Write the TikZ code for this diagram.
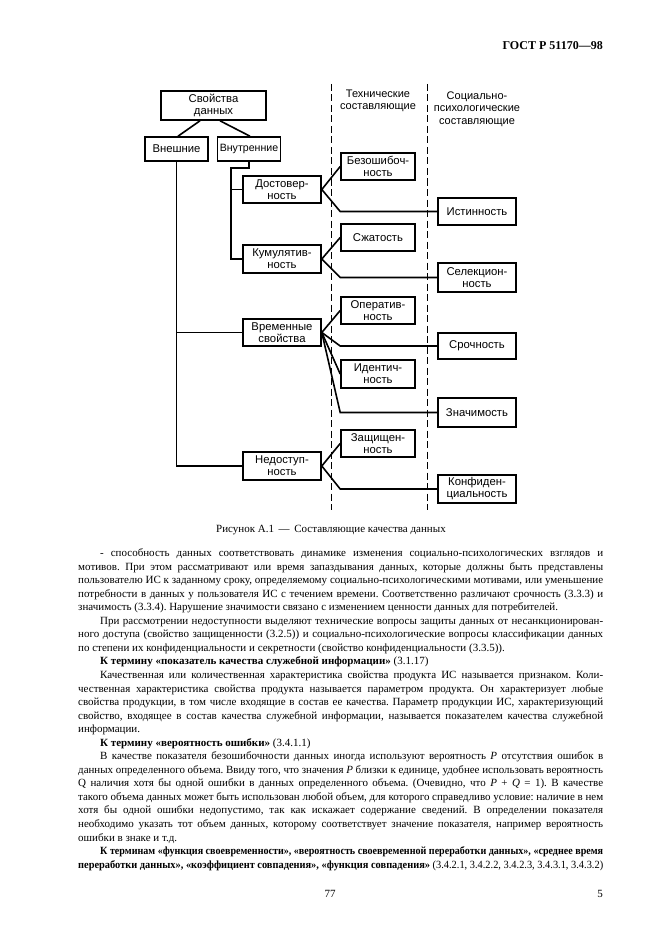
\documentclass[tikz,border=0pt]{standalone}
\usepackage{fontspec}
\setmainfont{Liberation Serif}
\setsansfont{Liberation Sans}
\usepackage{graphicx}
\frenchspacing
\newsavebox\lnbox
\newcommand\fitjust[2]{\sbox\lnbox{#2}\ifdim\wd\lnbox>#1\relax\resizebox{#1}{\height}{#2}\else\makebox[#1][s]{#2}\fi}
\newcommand\fullL[1]{\fitjust{525pt}{#1}}
\newcommand\indL[1]{\fitjust{503pt}{#1}}
\tikzset{
  bx/.style={draw, line width=1.6pt, font=\sffamily\fontsize{11.3}{12}\selectfont, align=center, inner sep=0pt},
  conn/.style={line width=1.6pt},
  sep/.style={line width=1pt, dash pattern=on 7pt off 3.5pt},
  colhead/.style={font=\sffamily\fontsize{11}{12.5}\selectfont, align=center, inner sep=0pt},
  body/.style={anchor=base west, inner sep=0pt, font=\fontsize{11}{13}\selectfont},
}
\begin{document}
\begin{tikzpicture}[x=1pt,y=-1pt]
\useasboundingbox (0,0) rectangle (661,936);
\fill[white] (0,0) rectangle (661,936);

% header
\node[anchor=base east, inner sep=0pt, font=\bfseries\fontsize{12}{14}\selectfont] (hdr) at (603,50) {ГОСТ Р 51170—98};

% dashed separators
\coordinate (d1a) at (331,84); \coordinate (d1b) at (331,510);
\coordinate (d2a) at (427,84); \coordinate (d2b) at (427,510);
\draw[sep] (d1a) -- (d1b);
\draw[sep] (d2a) -- (d2b);

% column headers
\node[colhead] (ch1) at (378,101) {Технические\\составляющие};
\node[colhead] (ch2) at (477,109) {Социально-\\психологические\\составляющие};

% boxes
\node[bx, minimum width=105pt, minimum height=29pt] (sv) at (213.5,105.5) {Свойства\\данных};
\node[bx, minimum width=63pt, minimum height=24pt] (vn) at (176.5,149) {Внешние};
\node[bx, minimum width=63pt, minimum height=24pt, font=\sffamily\fontsize{10.6}{12}\selectfont] (vt) at (249,149) {Внутренние};

\node[bx, minimum width=78pt, minimum height=27pt] (dost) at (282,189.5) {Достовер-\\ность};
\node[bx, minimum width=78pt, minimum height=28pt] (kum) at (282,259) {Кумулятив-\\ность};
\node[bx, minimum width=78pt, minimum height=27pt] (vrem) at (282,332.5) {Временные\\свойства};
\node[bx, minimum width=78pt, minimum height=28pt] (ned) at (282,466) {Недоступ-\\ность};

\node[bx, minimum width=74pt, minimum height=27pt] (bez) at (378,166.5) {Безошибоч-\\ность};
\node[bx, minimum width=74pt, minimum height=27pt] (szh) at (378,237.5) {Сжатость};
\node[bx, minimum width=74pt, minimum height=27pt] (oper) at (378,310.5) {Оператив-\\ность};
\node[bx, minimum width=74pt, minimum height=28pt] (ident) at (378,374) {Идентич-\\ность};
\node[bx, minimum width=74pt, minimum height=27pt] (zasch) at (378,443.5) {Защищен-\\ность};

\node[bx, minimum width=78pt, minimum height=27pt] (ist) at (477,211.5) {Истинность};
\node[bx, minimum width=78pt, minimum height=29pt] (sel) at (477,277.5) {Селекцион-\\ность};
\node[bx, minimum width=78pt, minimum height=26pt] (sroch) at (477,346) {Срочность};
\node[bx, minimum width=78pt, minimum height=29pt] (znach) at (477,412.5) {Значимость};
\node[bx, minimum width=78pt, minimum height=28pt] (konf) at (477,489) {Конфиден-\\циальность};

% connectors
\draw[conn] ([xshift=-13.5pt]sv.south) -- ([xshift=1.5pt]vn.north);
\draw[conn] ([xshift=6.5pt]sv.south) -- ([xshift=1pt]vt.north);
\draw[conn] (vn.south) |- (ned.west);
\draw[conn] (vn.south |- vrem.west) -- (vrem.west);
\coordinate (j1) at (231,168);
\draw[conn] (vt.south) |- (j1) |- (kum.west);
\draw[conn] (j1 |- dost.west) -- (dost.west);

\draw[conn] (bez.west) -- (dost.east) -- (ist.west -| bez.west) -- (ist.west);
\draw[conn] (szh.west) -- (kum.east) -- (sel.west -| szh.west) -- (sel.west);
\draw[conn] (oper.west) -- (vrem.east) -- (sroch.west -| oper.west) -- (sroch.west);
\draw[conn] (vrem.east) -- (ident.west);
\draw[conn] (vrem.east) -- (znach.west -| ident.west) -- (znach.west);
\draw[conn] (zasch.west) -- (ned.east) -- (konf.west -| zasch.west) -- (konf.west);

% caption
\node[anchor=base, inner sep=0pt, font=\fontsize{11}{13}\selectfont] (cap) at (331,532) {Рисунок А.1 \,—\, Составляющие качества данных};

% body text
\node[body] (t1) at (100,556.5) {\indL{- способность данных соответствовать динамике изменения социально-психологических взглядов и}};
\node[body] (t2) at (78,570.05) {\fullL{мотивов. При этом рассматривают или время запаздывания данных, которые должны быть представлены}};
\node[body] (t3) at (78,583.6) {\fullL{пользователю ИС к заданному сроку, определяемому социально-психологическими мотивами, или уменьшение}};
\node[body] (t4) at (78,597.15) {\fullL{потребности в данных у пользователя ИС с течением времени. Соответственно различают срочность (3.3.3) и}};
\node[body] (t5) at (78,610.7) {значимость (3.3.4). Нарушение значимости связано с изменением ценности данных для потребителей.};
\node[body] (t6) at (100,624.25) {\indL{При рассмотрении недоступности выделяют технические вопросы защиты данных от несанкционирован-}};
\node[body] (t7) at (78,637.8) {\fullL{ного доступа (свойство защищенности (3.2.5)) и социально-психологические вопросы классификации данных}};
\node[body] (t8) at (78,651.35) {по степени их конфиденциальности и секретности (свойство конфиденциальности (3.3.5)).};
\node[body] (t9) at (100,664.9) {\textbf{К термину «показатель качества служебной информации»} (3.1.17)};
\node[body] (t10) at (100,678.45) {\indL{Качественная или количественная характеристика свойства продукта ИС называется признаком. Коли-}};
\node[body] (t11) at (78,692) {\fullL{чественная характеристика свойства продукта называется параметром продукта. Он характеризует любые}};
\node[body] (t12) at (78,705.55) {\fullL{свойства продукции, в том числе входящие в состав ее качества. Параметр продукции ИС, характеризующий}};
\node[body] (t13) at (78,719.1) {\fullL{свойство, входящее в состав качества служебной информации, называется показателем качества служебной}};
\node[body] (t14) at (78,732.65) {информации.};
\node[body] (t15) at (100,746.2) {\textbf{К термину «вероятность ошибки»} (3.4.1.1)};
\node[body] (t16) at (100,759.75) {\indL{В качестве показателя безошибочности данных иногда используют вероятность \textit{P} отсутствия ошибок в}};
\node[body] (t17) at (78,773.3) {\fullL{данных определенного объема. Ввиду того, что значения \textit{P} близки к единице, удобнее использовать вероятность}};
\node[body] (t18) at (78,786.85) {\fullL{Q наличия хотя бы одной ошибки в данных определенного объема. (Очевидно, что \textit{P} + \textit{Q} = 1). В качестве}};
\node[body] (t19) at (78,800.4) {\fullL{такого объема данных может быть использован любой объем, для которого справедливо условие: наличие в нем}};
\node[body] (t20) at (78,813.95) {\fullL{хотя бы одной ошибки недопустимо, так как искажает содержание сведений. В определении показателя}};
\node[body] (t21) at (78,827.5) {\fullL{необходимо указать тот объем данных, которому соответствует значение показателя, например вероятность}};
\node[body] (t22) at (78,841.05) {ошибки в знаке и т.д.};
\node[body] (t23) at (100,854.6) {\indL{\textbf{К терминам «функция своевременности», «вероятность своевременной переработки данных», «среднее время}}};
\node[body] (t24) at (78,868.15) {\fullL{\textbf{переработки данных», «коэффициент совпадения», «функция совпадения»} (3.4.2.1, 3.4.2.2, 3.4.2.3, 3.4.3.1, 3.4.3.2)}};

% page numbers
\node[anchor=base, inner sep=0pt, font=\fontsize{11}{13}\selectfont] (pn1) at (330,897) {77};
\node[anchor=base east, inner sep=0pt, font=\fontsize{11}{13}\selectfont] (pn2) at (603,897) {5};
\end{tikzpicture}
\end{document}
